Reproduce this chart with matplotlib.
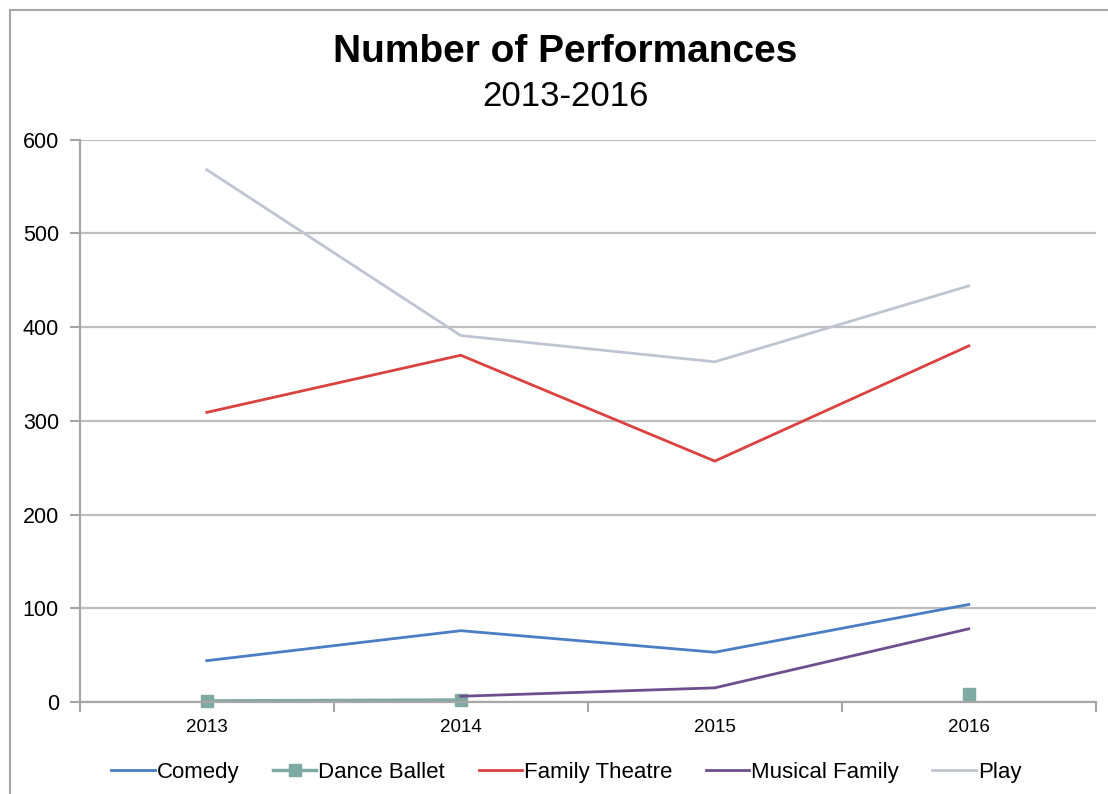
import numpy as np
import matplotlib
matplotlib.use("Agg")
import matplotlib.pyplot as plt
from matplotlib.patches import Rectangle

plt.rcParams['font.family'] = ['Liberation Sans', 'DejaVu Sans']

# Data
years = ['2013', '2014', '2015', '2016']
comedy = [44, 76, 53, 104]
dance_ballet = [1, 2, np.nan, 8]
family_theatre = [309, 370, 257, 380]
musical_family = [np.nan, 6, 15, 78]
play = [568, 391, 363, 444]

fig = plt.figure(figsize=(11.08, 7.94), dpi=100)
ax = fig.add_axes([0.072, 0.116, 0.917, 0.708])

# outer chart frame
fig.patches.append(Rectangle((0.009, -0.01), 1.05, 0.998, transform=fig.transFigure,
                             fill=False, edgecolor='#A6A6A6', linewidth=1.5))

x = np.arange(len(years))
ax.plot(x, comedy, color='#4A7DC4', lw=2, label='Comedy')
ax.plot(x, dance_ballet, color='#7FA9A3', lw=2.5, marker='s', ms=8,
        label='Dance Ballet', clip_on=False)
ax.plot(x, family_theatre, color='#D9423F', lw=2, label='Family Theatre')
ax.plot(x, musical_family, color='#6E4F8E', lw=2, label='Musical Family')
ax.plot(x, play, color='#BEC4D1', lw=2, label='Play')

ax.set_xlim(-0.5, 3.5)
ax.set_ylim(0, 600)
ax.set_yticks(range(0, 601, 100))
ax.set_xticks(x)
ax.set_xticklabels(years)
ax.set_xticks(np.arange(-0.5, 3.6, 1), minor=True)
ax.grid(axis='y', color='#BFBFBF', lw=1.6)
ax.set_axisbelow(True)

for s in ['top', 'right']:
    ax.spines[s].set_visible(False)
for s in ['left', 'bottom']:
    ax.spines[s].set_color('#A6A6A6')
    ax.spines[s].set_linewidth(1.6)

ax.tick_params(axis='y', length=7, color='#A6A6A6', width=1.5, labelsize=15.5, pad=8)
ax.tick_params(axis='x', which='major', length=0, labelsize=13.5, pad=12)
ax.tick_params(axis='x', which='minor', length=7, color='#A6A6A6', width=1.5)

fig.text(0.51, 0.934, 'Number of Performances', ha='center', va='center',
         fontsize=28, fontweight='bold')
fig.text(0.51, 0.879, '2013-2016', ha='center', va='center', fontsize=25)

ax.legend(loc='center', bbox_to_anchor=(0.479, -0.125), ncol=5, frameon=False,
          fontsize=16, handlelength=1.95, handletextpad=0.1, columnspacing=1.5,
          borderaxespad=0)

fig.savefig('out.png', dpi=100)
